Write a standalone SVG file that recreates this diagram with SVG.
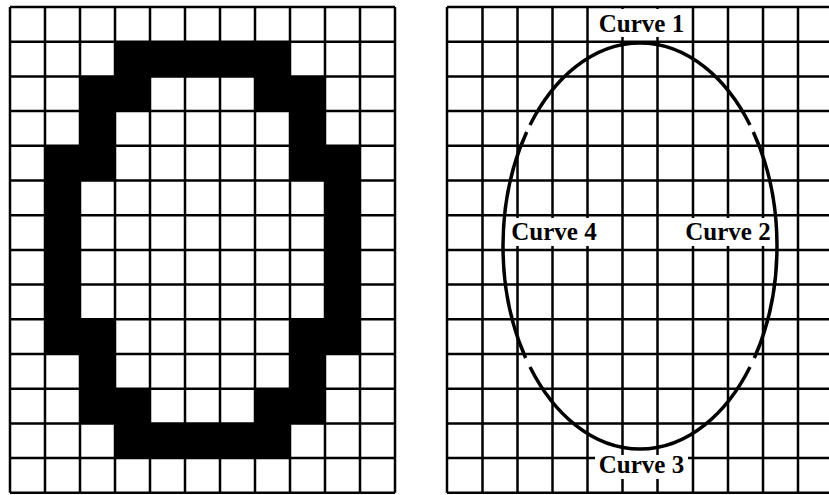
<svg xmlns="http://www.w3.org/2000/svg" width="829" height="495" viewBox="0 0 829 495">
<style>
.grid{fill:none;stroke:#000;stroke-width:2.5}
.cell{fill:#000}
.curve{fill:none;stroke:#000;stroke-width:3.5}
.box{fill:#fff}
.lbl{font-family:"Liberation Serif","Times New Roman",serif;font-weight:bold;font-size:25px;fill:#000;text-anchor:middle}
</style>
<rect width="829" height="495" fill="#fff"/>
<g id="raster">
<g id="raster-cells">
<rect class="cell" x="115" y="41.7" width="175" height="34.7"/>
<rect class="cell" x="80" y="76.4" width="70" height="34.7"/>
<rect class="cell" x="255" y="76.4" width="70" height="34.7"/>
<rect class="cell" x="80" y="111.1" width="35" height="34.7"/>
<rect class="cell" x="290" y="111.1" width="35" height="34.7"/>
<rect class="cell" x="45" y="145.8" width="70" height="34.7"/>
<rect class="cell" x="290" y="145.8" width="70" height="34.7"/>
<rect class="cell" x="45" y="180.5" width="35" height="138.8"/>
<rect class="cell" x="325" y="180.5" width="35" height="138.8"/>
<rect class="cell" x="45" y="319.3" width="70" height="34.7"/>
<rect class="cell" x="290" y="319.3" width="70" height="34.7"/>
<rect class="cell" x="80" y="354" width="35" height="34.7"/>
<rect class="cell" x="290" y="354" width="35" height="34.7"/>
<rect class="cell" x="80" y="388.7" width="70" height="34.7"/>
<rect class="cell" x="255" y="388.7" width="70" height="34.7"/>
<rect class="cell" x="115" y="423.4" width="175" height="34.7"/>
</g>
<path id="raster-grid" class="grid" d="M10 7V492.8M45 7V492.8M80 7V492.8M115 7V492.8M150 7V492.8M185 7V492.8M220 7V492.8M255 7V492.8M290 7V492.8M325 7V492.8M360 7V492.8M395 7V492.8
M10 7H395M10 41.7H395M10 76.4H395M10 111.1H395M10 145.8H395M10 180.5H395M10 215.2H395M10 249.9H395M10 284.6H395M10 319.3H395M10 354H395M10 388.7H395M10 423.4H395M10 458.1H395M10 492.8H395"/>
</g>
<g id="vector">
<path id="vector-grid" class="grid" d="M447 7V492.8M482.5 7V492.8M517.5 7V492.8M552.5 7V492.8M587.5 7V492.8M622.5 7V492.8M657.5 7V492.8M693 7V492.8M728 7V492.8M763 7V492.8M798 7V492.8M833 7V492.8
M447 7H833M447 41.7H833M447 76.4H833M447 111.1H833M447 145.8H833M447 180.5H833M447 215.2H833M447 249.9H833M447 284.6H833M447 319.3H833M447 354H833M447 388.7H833M447 423.4H833M447 458.1H833M447 492.8H833"/>
<g id="label-boxes">
<rect class="box" x="598" y="9" width="87" height="28"/>
<rect class="box" x="508" y="218" width="92" height="28"/>
<rect class="box" x="684" y="218" width="88" height="28"/>
<rect class="box" x="595" y="455" width="93" height="24"/>
</g>
<g id="curves">
<path id="curve1" class="curve" d="M530 125A137 203 0 0 1 750 125"/>
<path id="curve2" class="curve" d="M753.3 132A137 203 0 0 1 754.3 358"/>
<path id="curve3" class="curve" d="M750 367A137 203 0 0 1 530 367"/>
<path id="curve4" class="curve" d="M525.7 358A137 203 0 0 1 526.7 132"/>
</g>
<g id="labels">
<text class="lbl" x="641.5" y="32">Curve 1</text>
<text class="lbl" x="728" y="240">Curve 2</text>
<text class="lbl" x="641.5" y="473">Curve 3</text>
<text class="lbl" x="554" y="240">Curve 4</text>
</g>
</g>
</svg>
